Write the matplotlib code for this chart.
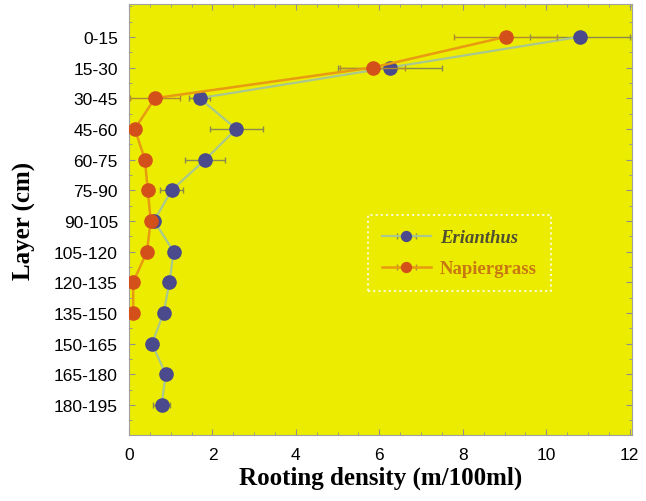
import matplotlib.pyplot as plt
import numpy as np
from matplotlib.ticker import MultipleLocator

layers = ["0-15", "15-30", "30-45", "45-60", "60-75", "75-90", "90-105",
          "105-120", "120-135", "135-150", "150-165", "165-180", "180-195"]

erianthus = [10.8, 6.25, 1.69, 2.57, 1.83, 1.02, 0.6, 1.07, 0.97, 0.83, 0.55, 0.88, 0.78]
erianthus_err = [1.2, 1.24, 0.25, 0.63, 0.48, 0.28, 0.12, 0.1, 0.12, 0.1, 0.08, 0.1, 0.2]

napier = [9.03, 5.84, 0.62, 0.14, 0.38, 0.45, 0.52, 0.43, 0.1, 0.1]
napier_err = [1.23, 0.78, 0.6, 0.05, 0.1, 0.08, 0.08, 0.08, 0.05, 0.05]

bg = "#ecec00"
y_e = np.arange(len(erianthus))
y_n = np.arange(len(napier))

fig = plt.figure(figsize=(6.46, 5.02), dpi=100)
ax = fig.add_axes([0.1997, 0.1315, 0.7783, 0.8585])
ax.set_facecolor(bg)

ax.errorbar(erianthus, y_e, xerr=erianthus_err, color="#a8c890", lw=1.6,
            marker="o", ms=9.5, mfc="#4a4a8c", mec="#4a4a8c",
            ecolor="#8a8a50", elinewidth=1, capsize=2, label="Erianthus", zorder=2)
ax.errorbar(napier, y_n, xerr=napier_err, color="#e89a10", lw=1.8,
            marker="o", ms=9.5, mfc="#d4501a", mec="#d4501a",
            ecolor="#b08a30", elinewidth=1, capsize=2, label="Napiergrass", zorder=3)

ax.set_xlim(0, 12.05)
ax.set_ylim(12.98, -1.07)
ax.set_yticks(y_e)
ax.set_yticklabels(layers)
ax.xaxis.set_major_locator(MultipleLocator(2))
ax.xaxis.set_minor_locator(MultipleLocator(0.5))
ax.yaxis.set_minor_locator(MultipleLocator(0.5))
ax.tick_params(which="both", direction="in", color="#909090", top=True, right=True)
ax.tick_params(which="major", length=4)
ax.tick_params(which="minor", length=2)
ax.tick_params(axis="both", labelsize=12.5)
ax.tick_params(axis="y", pad=8)
ax.tick_params(axis="x", pad=9)
for lab in ax.get_xticklabels() + ax.get_yticklabels():
    lab.set_family(["Liberation Sans", "DejaVu Sans"])
for s in ax.spines.values():
    s.set_color("#a0a0a0")

ax.set_xlabel("Rooting density (m/100ml)", family="Liberation Serif",
              fontweight="bold", fontsize=18, labelpad=2)
ax.set_ylabel("Layer (cm)", family="Liberation Serif", fontweight="bold",
              fontsize=18, labelpad=13)

leg = ax.legend(loc="center", bbox_to_anchor=(0.657, 0.422), frameon=True,
                fancybox=False, prop={"family": "Liberation Serif", "weight": "bold", "size": 13.5},
                handlelength=2.6, borderpad=0.75, labelspacing=0.75, handletextpad=0.5,
                markerscale=0.75)
leg.get_frame().set_facecolor(bg)
leg.get_frame().set_edgecolor("white")
leg.get_frame().set_linestyle((0, (1, 1.5)))
leg.get_frame().set_linewidth(1.5)
t1, t2 = leg.get_texts()
t1.set_style("italic")
t1.set_color("#505030")
t2.set_color("#c87810")

plt.savefig("out.png", dpi=100)
